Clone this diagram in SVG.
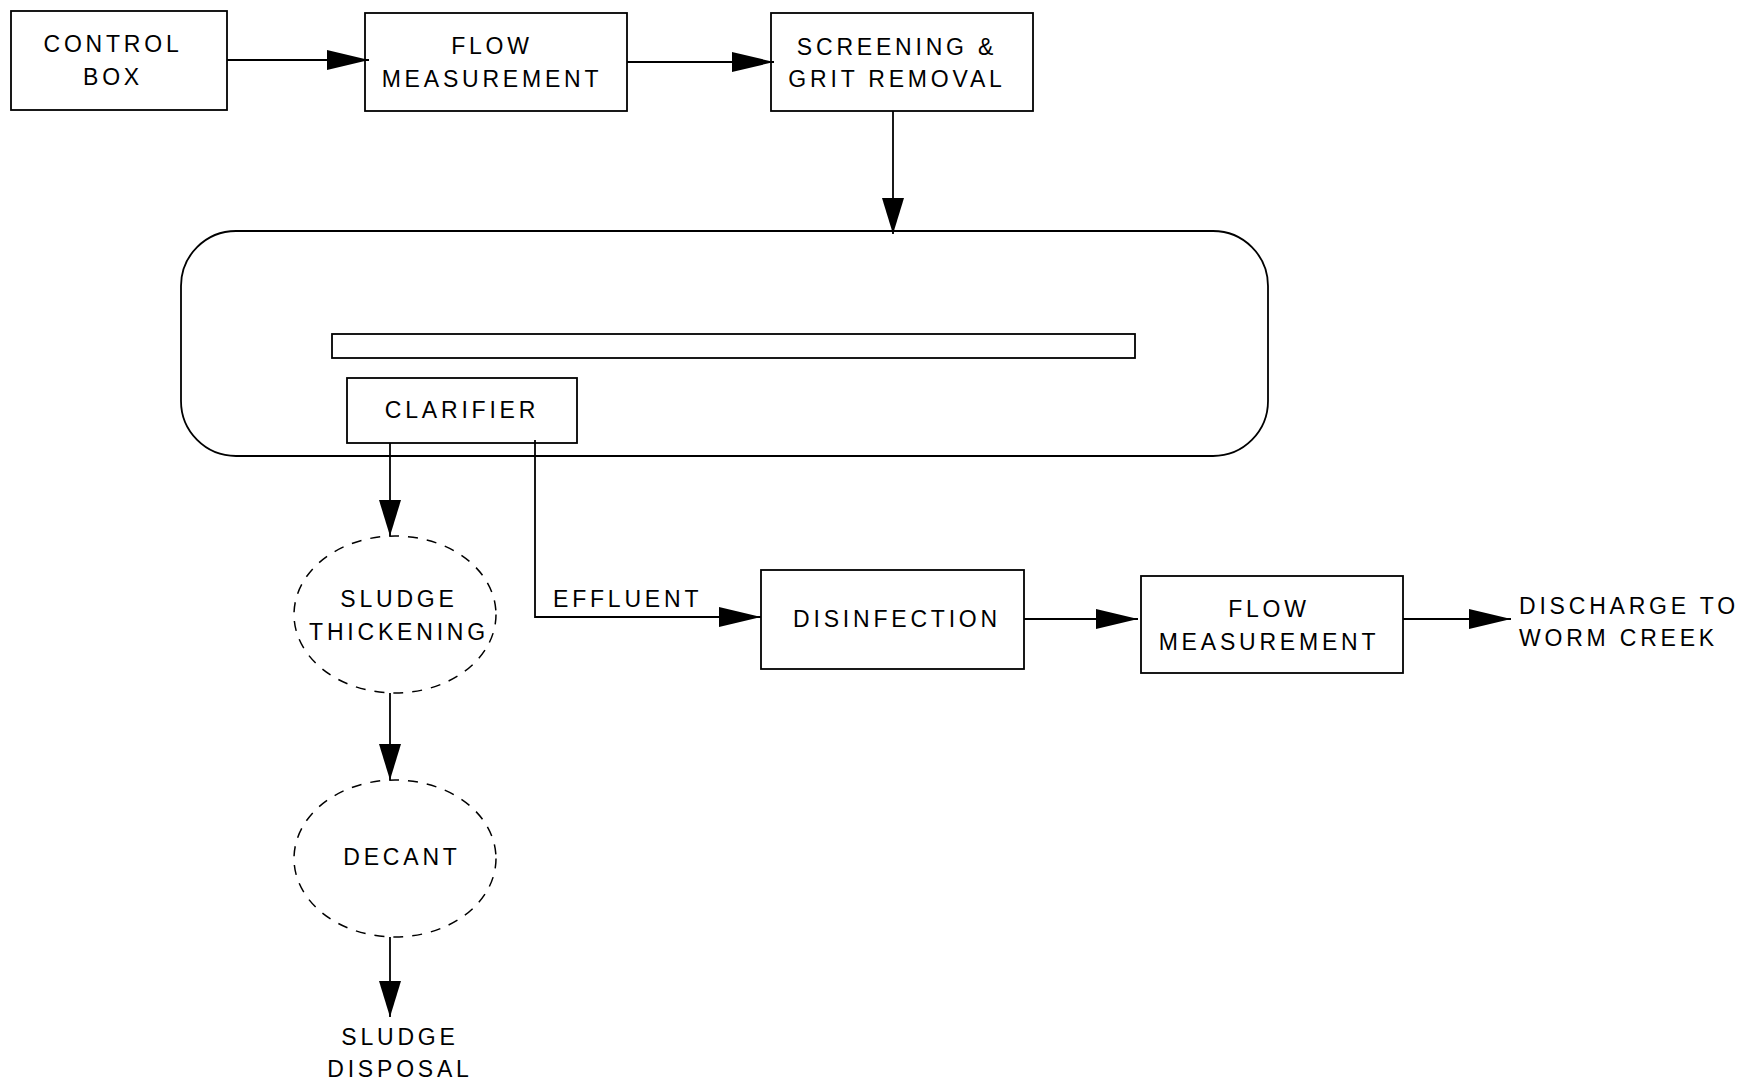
<svg xmlns="http://www.w3.org/2000/svg" width="1739" height="1082" viewBox="0 0 1739 1082">
<style>
.box{fill:#fff;stroke:#000;stroke-width:1.8}
.dash{fill:#fff;stroke:#000;stroke-width:1.5;stroke-dasharray:10 9}
.ln{fill:none;stroke:#000;stroke-width:1.8}
text{font-family:"Liberation Sans",Arial,sans-serif;font-size:23px;letter-spacing:3.8px;fill:#000;text-anchor:middle}
.l{text-anchor:start}
</style>
<defs>
<marker id="ah" markerUnits="userSpaceOnUse" markerWidth="42" markerHeight="20" viewBox="0 0 42 20" refX="42" refY="10" orient="auto"><path d="M0,0 L42,10 L0,20 z" fill="#000"/></marker>
<marker id="av" markerUnits="userSpaceOnUse" markerWidth="36" markerHeight="22" viewBox="0 0 36 22" refX="36" refY="11" orient="auto"><path d="M0,0 L36,11 L0,22 z" fill="#000"/></marker>
</defs>
<rect width="1739" height="1082" fill="#fff"/>
<g id="aeration-basin">
<rect class="box" x="181" y="231" width="1087" height="225" rx="55" ry="55"/>
<rect class="box" x="332" y="334" width="803" height="24"/>
</g>
<g id="control-box"><rect class="box" x="11" y="11" width="216" height="99"/><text x="113" y="52">CONTROL</text><text x="113" y="85">BOX</text></g>
<g id="flow-measurement-1"><rect class="box" x="365" y="13" width="262" height="98"/><text x="492" y="54">FLOW</text><text x="492" y="87">MEASUREMENT</text></g>
<g id="screening"><rect class="box" x="771" y="13" width="262" height="98"/><text x="897" y="55">SCREENING &amp;</text><text x="897" y="87">GRIT REMOVAL</text></g>
<g id="clarifier"><rect class="box" x="347" y="378" width="230" height="65"/><text x="462" y="418">CLARIFIER</text></g>
<g id="sludge-thickening"><ellipse class="dash" cx="395" cy="614.5" rx="101" ry="78.5"/><text x="399" y="607">SLUDGE</text><text x="399" y="640">THICKENING</text></g>
<g id="decant"><ellipse class="dash" cx="395" cy="858.5" rx="101" ry="78.5"/><text x="402" y="865">DECANT</text></g>
<g id="sludge-disposal"><text x="400" y="1045">SLUDGE</text><text x="400" y="1077">DISPOSAL</text></g>
<g id="disinfection"><rect class="box" x="761" y="570" width="263" height="99"/><text x="897" y="627">DISINFECTION</text></g>
<g id="flow-measurement-2"><rect class="box" x="1141" y="576" width="262" height="97"/><text x="1269" y="617">FLOW</text><text x="1269" y="650">MEASUREMENT</text></g>
<g id="discharge"><text class="l" x="1519" y="614">DISCHARGE TO</text><text class="l" x="1519" y="646">WORM CREEK</text></g>
<g id="connectors">
<path class="ln" d="M227,60 H369" marker-end="url(#ah)"/>
<path class="ln" d="M627,62 H774" marker-end="url(#ah)"/>
<path class="ln" d="M893,111 V234" marker-end="url(#av)"/>
<path class="ln" d="M390,443 V536" marker-end="url(#av)"/>
<path class="ln" d="M535,440 V617 H761" marker-end="url(#ah)"/>
<path class="ln" d="M390,693 V780" marker-end="url(#av)"/>
<path class="ln" d="M390,937 V1017" marker-end="url(#av)"/>
<path class="ln" d="M1024,619 H1138" marker-end="url(#ah)"/>
<path class="ln" d="M1403,619 H1511" marker-end="url(#ah)"/>
<text class="l" x="553" y="607">EFFLUENT</text>
</g>
</svg>
